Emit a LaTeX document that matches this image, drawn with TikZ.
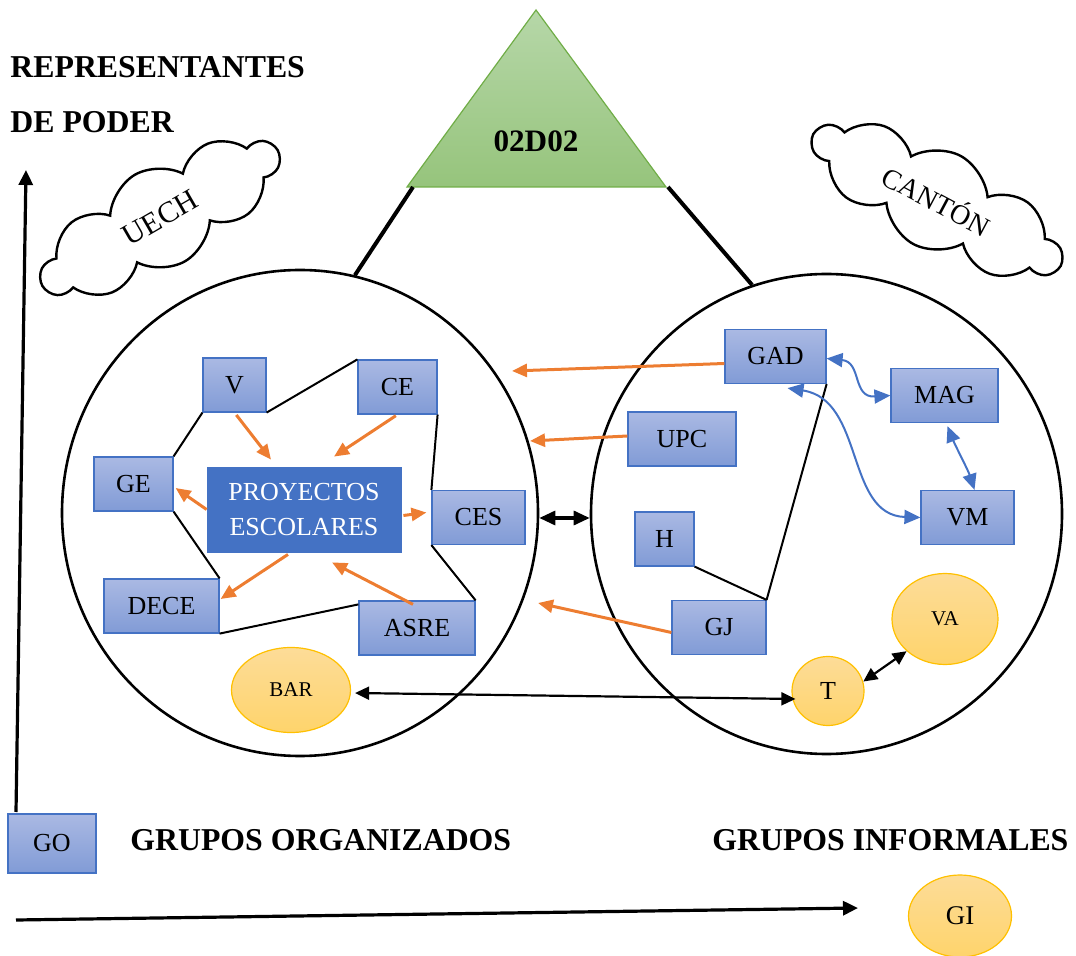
\documentclass[tikz,border=0pt]{standalone}
\usepackage{fontspec}
\setmainfont{Liberation Serif}
\usetikzlibrary{arrows.meta, shapes.geometric, shapes.symbols}

\definecolor{boxtop}{HTML}{AAB9E3}
\definecolor{boxbot}{HTML}{819BD6}
\definecolor{boxline}{HTML}{4472C4}
\definecolor{grupotop}{HTML}{FDDC98}
\definecolor{grupobot}{HTML}{FED46C}
\definecolor{grupoline}{HTML}{FFC000}
\definecolor{tritop}{HTML}{B6D7A8}
\definecolor{tribot}{HTML}{96C47C}
\definecolor{triline}{HTML}{70AD47}
\definecolor{naranja}{HTML}{ED7D31}
\definecolor{azul}{HTML}{4472C4}

\begin{document}
\begin{tikzpicture}[
		x=0.5pt, y=-0.5pt,
		every node/.style={font=\fontsize{13}{15.5}\selectfont},
		actor/.style={draw=boxline, line width=0.6pt, top color=boxtop, bottom color=boxbot,
			minimum height=27pt, inner sep=0pt},
		grupo/.style={ellipse, draw=grupoline, line width=0.6pt, top color=grupotop,
			bottom color=grupobot, inner sep=0pt},
		zona/.style={draw, ellipse, line width=1.3pt, inner sep=0pt},
		nube/.style={cloud, draw, line width=1.2pt, fill=white, cloud puffs=10,
			cloud puff arc=115, cloud ignores aspect, inner sep=0pt},
		titulo/.style={font=\fontsize{15.9}{19}\bfseries\selectfont, inner sep=0pt, anchor=base west},
		enlace/.style={line width=1pt},
		influye/.style={-{Triangle[length=7.5pt, width=6.5pt]}, naranja, line width=1.5pt},
		relacion/.style={{Triangle[length=8pt, width=7pt]}-{Triangle[length=8pt, width=7pt]}, azul, line width=1pt},
		mutuo/.style={{Triangle[length=7pt, width=6.5pt]}-{Triangle[length=7pt, width=6.5pt]}, line width=1.1pt},
		eje/.style={-{Triangle[length=7.5pt, width=7pt]}, line width=1.6pt}
		]
		\useasboundingbox (0,0) rectangle (1076,956);
		
		% === TITLES AND AXES ===
		\node[titulo] (rep1) at (10,78) {REPRESENTANTES};
		\node[titulo] (rep2) at (10,133) {DE PODER};
		\node[titulo] (gorg) at (130,850) {GRUPOS ORGANIZADOS};
		\node[titulo] (ginf) at (712,850) {GRUPOS INFORMALES};
		
		\coordinate (ejey0) at (16,812);
		\coordinate (ejey1) at (26,170);
		\coordinate (ejex0) at (16,920);
		\coordinate (ejex1) at (858,908);
		\draw[eje] (ejey0) -- (ejey1);
		\draw[eje] (ejex0) -- (ejex1);
		
		% legend items
		\node[actor, minimum width=44pt, minimum height=29.5pt] (go) at (52,843.5) {GO};
		\node[grupo, minimum width=51.5pt, minimum height=41pt, font=\fontsize{13.5}{16}\selectfont] (gi) at (960,916) {GI};
		
		% === DISTRICT TRIANGLE ===
		\coordinate (ta) at (536,10);
		\coordinate (tl) at (407,187);
		\coordinate (tr) at (666,187);
		\shade[top color=tritop, bottom color=tribot, draw=triline, line width=0.6pt]
		(tl) -- (ta) -- (tr) -- cycle;
		\node[font=\fontsize{15.6}{19}\bfseries\selectfont] (dist) at (536,141) {02D02};
		
		% === ZONES ===
		\node[zona, minimum width=238pt, minimum height=243pt] (lc) at (300,513) {};
		\node[zona, minimum width=235.5pt, minimum height=240pt] (rc) at (826.5,514) {};
		
		\draw[line width=2pt] ([xshift=3pt]tl) -- (lc.77);
		\draw[line width=2pt] ([xshift=1pt]tr) -- (rc.108);
		
		% clouds
		\node[nube, rotate=30, minimum width=134pt, minimum height=50pt,
		font=\fontsize{15}{17}\selectfont] (uech) at (160,218) {UECH};
		\node[nube, rotate=-28, minimum width=138pt, minimum height=50pt,
		font=\fontsize{14}{16}\selectfont] (canton) at (937,200) {CANTÓN};
		
		% === LEFT ZONE: SCHOOL ACTORS ===
		\node[actor, minimum width=31.5pt] (v) at (234.5,385) {V};
		\node[actor, minimum width=39.5pt] (ce) at (397.5,387) {CE};
		\node[actor, minimum width=39.5pt] (ge) at (133.5,484) {GE};
		\node[draw=boxline, fill=boxline, text=white, align=center, inner sep=0pt,
		minimum width=97pt, minimum height=42.5pt, font=\fontsize{13}{17.5}\selectfont]
		(pe) at (304,509.5) {PROYECTOS\\ESCOLARES};
		\node[actor, minimum width=46.5pt] (ces) at (478.5,517.5) {CES};
		\node[actor, minimum width=57.5pt] (dece) at (161.5,606) {DECE};
		\node[actor, minimum width=58pt] (asre) at (417,628) {ASRE};
		\node[grupo, minimum width=59.5pt, minimum height=42.5pt,
		font=\fontsize{10.5}{12}\selectfont] (bar) at (291,690) {BAR};
		
		\draw[enlace] (v.south east) -- (ce.north west);
		\draw[enlace] (ce.south east) -- (ces.north west);
		\draw[enlace] (v.south west) -- (ge.north east);
		\draw[enlace] (ge.south east) -- (dece.north east);
		\draw[enlace] (dece.south east) -- ([yshift=-2pt]asre.north west);
		\draw[enlace] (ces.south west) -- (asre.north east);
		
		\draw[influye, shorten <=1.5pt] (v.south) -- ([xshift=-16.5pt, yshift=3.5pt]pe.north);
		\draw[influye, shorten <=1pt] (ce.south) -- ([xshift=15pt, yshift=5pt]pe.north);
		\draw[influye] (pe.west) -- ([xshift=1pt, yshift=-2pt]ge.east);
		\draw[influye] ([xshift=1pt, yshift=-3pt]pe.east) -- ([xshift=-2.5pt, yshift=2.5pt]ces.west);
		\draw[influye] ([xshift=-8pt, yshift=-1pt]pe.south) -- ([xshift=0.5pt, yshift=3.5pt]dece.east);
		\draw[influye] ([xshift=-2pt, yshift=-2pt]asre.north) -- ([xshift=14pt, yshift=-5pt]pe.south);
		
		% === RIGHT ZONE: COMMUNITY ACTORS ===
		\node[actor, minimum width=50.5pt] (gad) at (775.5,356.5) {GAD};
		\node[actor, minimum width=53.5pt] (mag) at (944.5,395.5) {MAG};
		\node[actor, minimum width=54pt] (upc) at (682,439) {UPC};
		\node[actor, minimum width=29.5pt] (h) at (664.5,539) {H};
		\node[actor, minimum width=46.5pt] (vm) at (967.5,517.5) {VM};
		\node[actor, minimum width=47pt] (gj) at (719,627.5) {GJ};
		\node[grupo, minimum width=53pt, minimum height=45.5pt,
		font=\fontsize{10.5}{12}\selectfont] (va) at (945,619) {VA};
		\node[grupo, minimum width=36pt, minimum height=34.5pt] (t) at (828,691) {T};
		
		\draw[enlace] (gad.south east) -- (gj.north east);
		\draw[enlace] (h.south east) -- (gj.north east);
		
		\draw[relacion] ([yshift=-1pt]gad.east) .. controls (862,362) and (852,398) .. (mag.west);
		\draw[relacion] ([xshift=6pt, yshift=-2pt]gad.south) .. controls (865,400) and (845,515) .. (vm.west);
		\draw[relacion] ([xshift=1.5pt, yshift=-1.5pt]mag.south) .. controls (955,445) and (968,470) .. ([xshift=3.5pt]vm.north);
		
		% === LINKS BETWEEN ZONES ===
		\coordinate (gadtip) at (512,371);
		\coordinate (upctip) at (530,441);
		\coordinate (gjtip) at (538,603);
		\draw[influye] ([yshift=-3.5pt]gad.west) -- (gadtip);
		\draw[influye] ([yshift=1.5pt]upc.west) -- (upctip);
		\draw[influye] ([yshift=-2.5pt]gj.west) -- (gjtip);
		
		\draw[{Triangle[length=8pt, width=7pt]}-{Triangle[length=8pt, width=7pt]}, line width=1.6pt]
		([yshift=-2.5pt]lc.east) -- ([yshift=-2pt]rc.west);
		\draw[mutuo] ([xshift=2pt, yshift=-1.5pt]bar.east) -- ([xshift=2pt, yshift=-4pt]t.west);
		\draw[mutuo] (t.15) -- (va.220);
		
	\end{tikzpicture}
\end{document}
